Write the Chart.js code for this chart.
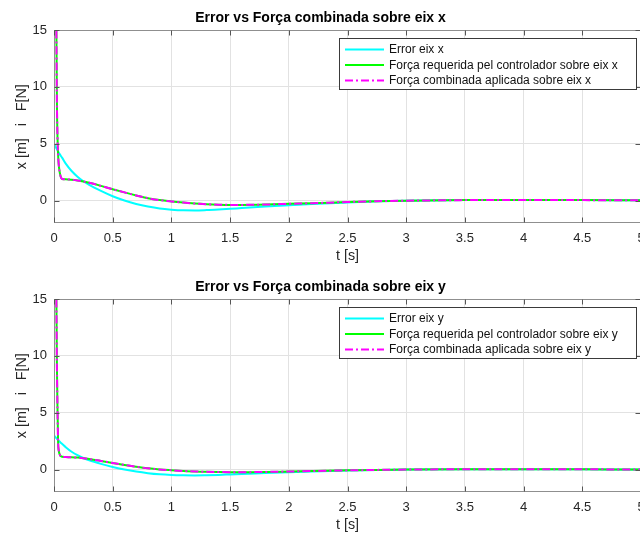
<!DOCTYPE html>
<html><head><meta charset="utf-8">
<script src="https://cdn.jsdelivr.net/npm/chart.js@4.4.1/dist/chart.umd.min.js"></script>
<style>
html,body{margin:0;padding:0;width:640px;height:534px;overflow:hidden;background:#fff}
canvas{position:absolute;left:0}
#c1{top:0}
#c2{top:269px}
</style></head><body>
<canvas id="c1" width="645" height="269"></canvas>
<canvas id="c2" width="645" height="269"></canvas>
<script>
// ---- data ----
const tTime = [0,0.01,0.02,0.025,0.03,0.035,0.04,0.05,0.06,0.07,0.1,0.15,0.2,0.25,0.3,0.4,0.5,0.6,0.7,0.8,0.9,1.0,1.1,1.2,1.3,1.4,1.5,1.6,1.8,2.0,2.2,2.5,2.75,3.0,3.5,4.0,4.5,5.0];

const errorX    = [5.0,4.8,4.6,4.5,4.41,4.32,4.23,4.06,3.9,3.75,3.25,2.6,2.1,1.7,1.38,0.85,0.38,0.0,-0.3,-0.53,-0.7,-0.8,-0.86,-0.87,-0.84,-0.79,-0.73,-0.66,-0.53,-0.41,-0.3,-0.16,-0.07,-0.01,0.04,0.05,0.04,0.02];
const forceReqX = [60,35,15.5,8.5,5.5,4.0,3.2,2.4,2.02,1.9,1.87,1.83,1.77,1.68,1.56,1.29,1.0,0.72,0.45,0.21,0.04,-0.08,-0.18,-0.26,-0.32,-0.36,-0.38,-0.38,-0.35,-0.29,-0.23,-0.13,-0.06,-0.01,0.04,0.05,0.04,0.02];
const forceAppX = [60,35,15.5,8.5,5.5,4.0,3.2,2.4,2.02,1.9,1.87,1.83,1.77,1.68,1.56,1.29,1.0,0.72,0.45,0.21,0.04,-0.08,-0.18,-0.26,-0.32,-0.36,-0.38,-0.38,-0.35,-0.29,-0.23,-0.13,-0.06,-0.01,0.04,0.05,0.04,0.02];

const errorY    = [3.0,2.88,2.76,2.7,2.65,2.59,2.54,2.44,2.34,2.25,1.97,1.57,1.26,1.02,0.82,0.5,0.22,0.0,-0.18,-0.32,-0.42,-0.48,-0.51,-0.52,-0.5,-0.47,-0.43,-0.39,-0.31,-0.24,-0.17,-0.09,-0.04,0.0,0.025,0.03,0.02,0.01];
const forceReqY = [60,35,15.5,9,5.2,2.4,1.7,1.3,1.16,1.12,1.1,1.08,1.05,1.0,0.93,0.76,0.58,0.41,0.25,0.11,0.01,-0.06,-0.12,-0.17,-0.2,-0.22,-0.23,-0.23,-0.21,-0.17,-0.13,-0.07,-0.03,0.0,0.025,0.03,0.02,0.01];
const forceAppY = [60,35,15.5,9,5.2,2.4,1.7,1.3,1.16,1.12,1.1,1.08,1.05,1.0,0.93,0.76,0.58,0.41,0.25,0.11,0.01,-0.06,-0.12,-0.17,-0.2,-0.22,-0.23,-0.23,-0.21,-0.17,-0.13,-0.07,-0.03,0.0,0.025,0.03,0.02,0.01];

const xTickValues = [0,0.5,1,1.5,2,2.5,3,3.5,4,4.5,5];
const xTickLabels = ['0','0.5','1','1.5','2','2.5','3','3.5','4','4.5','5'];
const yTickValues = [0,5,10,15];
const yTickLabels = ['0','5','10','15'];
const titleX = 'Error vs Força combinada sobre eix x';
const titleY = 'Error vs Força combinada sobre eix y';
const legendX = ['Error eix x','Força requerida pel controlador sobre eix x','Força combinada aplicada sobre eix x'];
const legendY = ['Error eix y','Força requerida pel controlador sobre eix y','Força combinada aplicada sobre eix y'];
const xAxisTitle = 't [s]';
const yAxisTitle = 'x [m]   i   F[N]';

// ---- rendering ----
const FONT = "'Liberation Sans', Arial, Helvetica, sans-serif";
const toXY = arr => tTime.map((t, i) => ({x: t, y: arr[i]}));

const boxPlugin = {
  id: 'mlBox',
  afterDatasetsDraw(chart) {
    const {ctx, chartArea: a, scales: {x, y}} = chart;
    ctx.save();
    const L = Math.round(a.left) + 0.5, R = Math.round(a.right) - 0.5;
    const T = Math.round(a.top) + 0.5, B = Math.round(a.bottom) - 0.5;
    ctx.strokeStyle = '#8f8f8f';
    ctx.lineWidth = 1;
    ctx.strokeRect(L, T, R - L, B - T);
    ctx.strokeStyle = '#555';
    ctx.beginPath();
    x.ticks.forEach(tk => {
      const px = Math.round(x.getPixelForValue(tk.value)) + 0.5;
      ctx.moveTo(px, B); ctx.lineTo(px, B - 5);
      ctx.moveTo(px, T); ctx.lineTo(px, T + 5);
    });
    y.ticks.forEach(tk => {
      const py = Math.round(y.getPixelForValue(tk.value)) + 0.5;
      ctx.moveTo(L, py); ctx.lineTo(L + 5, py);
      ctx.moveTo(R, py); ctx.lineTo(R - 5, py);
    });
    ctx.stroke();
    ctx.restore();
  }
};

function legendPlugin(labels) {
  return {
    id: 'mlLegend',
    afterDraw(chart) {
      const {ctx, chartArea: a} = chart;
      const W = 297, H = 51;
      const L = Math.round(a.right - 5 - W), T = Math.round(a.top + 8);
      ctx.save();
      ctx.fillStyle = '#fff';
      ctx.fillRect(L, T, W, H);
      ctx.strokeStyle = '#3a3a3a';
      ctx.lineWidth = 1;
      ctx.strokeRect(L + 0.5, T + 0.5, W, H);
      ctx.font = '12px ' + FONT;
      ctx.textBaseline = 'middle';
      ctx.textAlign = 'left';
      chart.data.datasets.forEach((ds, i) => {
        const yy = T + 11.5 + i * 15.5;
        ctx.beginPath();
        ctx.strokeStyle = ds.borderColor;
        ctx.lineWidth = ds.borderWidth;
        ctx.setLineDash(ds.borderDash || []);
        ctx.moveTo(L + 6, yy); ctx.lineTo(L + 45, yy);
        ctx.stroke();
        ctx.setLineDash([]);
        ctx.fillStyle = '#111';
        ctx.fillText(labels[i], L + 50, yy + 0.5);
      });
      ctx.restore();
    }
  };
}

function makeChart(id, title, labels, err, fReq, fApp) {
  const datasets = [
    {label: labels[0], data: toXY(err), borderColor: '#00ffff', borderWidth: 2, order: 2},
    {label: labels[1], data: toXY(fReq), borderColor: '#00ff00', borderWidth: 2, order: 1},
    {label: labels[2], data: toXY(fApp), borderColor: '#ff00ff', borderWidth: 2, borderDash: [8, 3, 2, 3], order: 0}
  ].map(d => Object.assign(d, {pointRadius: 0, fill: false, cubicInterpolationMode: 'monotone'}));

  return new Chart(document.getElementById(id), {
    type: 'line',
    data: {datasets},
    plugins: [boxPlugin, legendPlugin(labels)],
    options: {
      responsive: false,
      animation: false,
      layout: {padding: {left: 0, right: 4, top: 0, bottom: 0}},
      plugins: {
        legend: {display: false},
        tooltip: {enabled: false},
        title: {
          display: true, text: title, color: '#000',
          font: {family: FONT, size: 14, weight: 'bold', lineHeight: 1.2},
          padding: {top: 9.6, bottom: 3.6}
        }
      },
      scales: {
        x: {
          type: 'linear', min: 0, max: 5,
          afterBuildTicks: s => { s.ticks = xTickValues.map(v => ({value: v})); },
          afterFit: s => { s.height = 45.7; s.paddingLeft = 0; s.paddingRight = 0; },
          grid: {color: '#e2e2e2', drawTicks: false},
          border: {display: false},
          ticks: {color: '#262626', font: {family: FONT, size: 13}, padding: 7, maxRotation: 0, autoSkip: false,
                  callback: (v, i) => xTickLabels[i]},
          title: {display: true, text: xAxisTitle, color: '#262626', font: {family: FONT, size: 14.3, lineHeight: 1.2}, padding: {top: 0, bottom: 4}}
        },
        y: {
          type: 'linear', min: -2, max: 15,
          afterBuildTicks: s => { s.ticks = yTickValues.map(v => ({value: v})); },
          afterFit: s => { s.width = 54; s.paddingTop = 0; s.paddingBottom = 0; },
          grid: {color: '#e2e2e2', drawTicks: false},
          border: {display: false},
          ticks: {color: '#262626', font: {family: FONT, size: 13}, padding: 7,
                  callback: (v, i) => yTickLabels[i]},
          title: {display: true, text: yAxisTitle, color: '#262626', font: {family: FONT, size: 14.3, lineHeight: 1.2}, padding: {top: 13.4, bottom: 0}}
        }
      }
    }
  });
}

makeChart('c1', titleX, legendX, errorX, forceReqX, forceAppX);
makeChart('c2', titleY, legendY, errorY, forceReqY, forceAppY);
</script>
</body></html>
